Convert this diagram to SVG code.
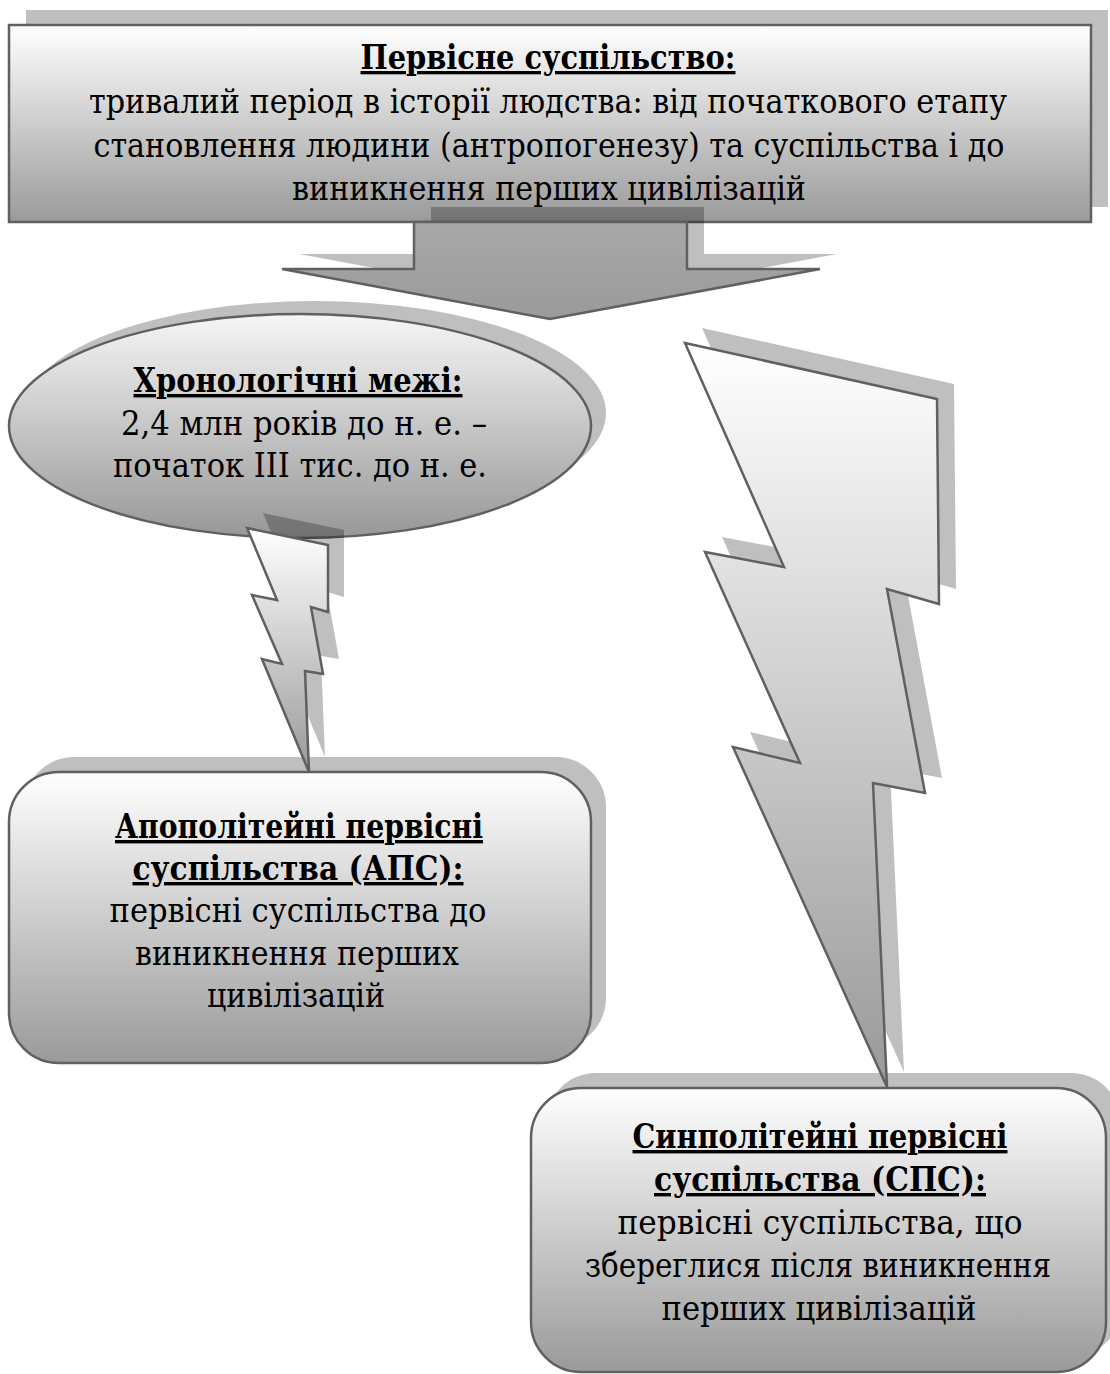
<svg xmlns="http://www.w3.org/2000/svg" width="1110" height="1374" viewBox="0 0 1110 1374">
<defs>
<linearGradient id="gBox" x1="0" y1="0" x2="0" y2="1">
<stop offset="0" stop-color="#ffffff"/>
<stop offset="1" stop-color="#9a9a9a"/>
</linearGradient>
<linearGradient id="gEll" x1="0" y1="0" x2="0" y2="1">
<stop offset="0" stop-color="#f6f6f6"/>
<stop offset="1" stop-color="#979797"/>
</linearGradient>
<linearGradient id="gArrow" x1="0" y1="0" x2="0" y2="1">
<stop offset="0" stop-color="#a8a8a8"/>
<stop offset="1" stop-color="#9a9a9a"/>
</linearGradient>
<linearGradient id="gBolt" x1="0" y1="0" x2="0" y2="1">
<stop offset="0" stop-color="#ffffff"/>
<stop offset="1" stop-color="#999999"/>
</linearGradient>
</defs>
<style>
.sh{fill:#000;fill-opacity:0.25}
.shape{stroke:#606060;stroke-width:2.5}
.t{font-family:"DejaVu Serif Condensed","DejaVu Serif","Liberation Serif",serif;fill:#000;text-anchor:middle;font-size:34px}
.s{font-size:33px}
.b{font-weight:bold;text-decoration:underline}
</style>

<g id="node-top">
<rect class="sh" x="26" y="10" width="1082" height="197"/>
<rect class="shape" x="9" y="25" width="1082" height="197" fill="url(#gBox)"/>
<text class="t s b" x="548" y="69" textLength="375" lengthAdjust="spacingAndGlyphs">Первісне суспільство:</text>
<text class="t s" x="548" y="113" textLength="918" lengthAdjust="spacingAndGlyphs">тривалий період в історії людства: від початкового етапу</text>
<text class="t s" x="549" y="157" textLength="911" lengthAdjust="spacingAndGlyphs">становлення людини (антропогенезу) та суспільства і до</text>
<text class="t s" x="549" y="200" textLength="514" lengthAdjust="spacingAndGlyphs">виникнення перших цивілізацій</text>
</g>

<g id="node-chrono">
<ellipse class="sh" cx="315" cy="413" rx="291" ry="112"/>
<ellipse class="shape" cx="300" cy="426" rx="291" ry="112" fill="url(#gEll)"/>
<text class="t b" x="298" y="392" textLength="329" lengthAdjust="spacingAndGlyphs">Хронологічні межі:</text>
<text class="t" x="304" y="435" textLength="366" lengthAdjust="spacingAndGlyphs">2,4 млн років до н. е. –</text>
<text class="t" x="300" y="477" textLength="374" lengthAdjust="spacingAndGlyphs">початок III тис. до н. е.</text>
</g>

<g id="node-aps">
<rect class="sh" x="24" y="757" width="582" height="291" rx="50" ry="50"/>
<rect class="shape" x="9" y="772" width="582" height="291" rx="50" ry="50" fill="url(#gBox)"/>
<text class="t b" x="299" y="838" textLength="368" lengthAdjust="spacingAndGlyphs">Апополітейні первісні</text>
<text class="t b" x="298" y="880" textLength="331" lengthAdjust="spacingAndGlyphs">суспільства (АПС):</text>
<text class="t" x="298" y="922" textLength="377" lengthAdjust="spacingAndGlyphs">первісні суспільства до</text>
<text class="t" x="297" y="965" textLength="324" lengthAdjust="spacingAndGlyphs">виникнення перших</text>
<text class="t" x="296" y="1007" textLength="178" lengthAdjust="spacingAndGlyphs">цивілізацій</text>
</g>

<g id="node-sps">
<rect class="sh" x="546" y="1073" width="575" height="284" rx="50" ry="50"/>
<rect class="shape" x="531" y="1088" width="575" height="284" rx="50" ry="50" fill="url(#gBox)"/>
<text class="t b" x="820" y="1148" textLength="375" lengthAdjust="spacingAndGlyphs">Синполітейні первісні</text>
<text class="t b" x="820" y="1191" textLength="332" lengthAdjust="spacingAndGlyphs">суспільства (СПС):</text>
<text class="t" x="820" y="1234" textLength="405" lengthAdjust="spacingAndGlyphs">первісні суспільства, що</text>
<text class="t" x="818" y="1277" textLength="466" lengthAdjust="spacingAndGlyphs">збереглися після виникнення</text>
<text class="t" x="819" y="1320" textLength="315" lengthAdjust="spacingAndGlyphs">перших цивілізацій</text>
</g>

<g id="connectors">
<polygon class="sh" points="431,207 704,207 704,254 837,254 567,304 299,254 431,254"/>
<polygon class="shape" points="414,222 687,222 687,269 820,269 550,319 282,269 414,269" fill="url(#gArrow)"/>

<polygon class="sh" points="263,513 344,530 344,597 327,592 339,659 321,656 325,757 278,644 298,649 268,580 293,585"/>
<polygon class="shape" points="247,528 328,545 328,612 311,607 323,674 305,671 309,772 262,659 282,664 252,595 277,600" fill="url(#gBolt)"/>

<polygon class="sh" points="702,328 954,384 956,589 904,574 942,778 890,768 904,1072 750,732 817,748 722,537 801,552"/>
<polygon class="shape" points="685,343 937,399 939,604 887,589 925,793 873,783 887,1087 733,747 800,763 705,552 784,567" fill="url(#gBolt)"/>
</g>
</svg>
